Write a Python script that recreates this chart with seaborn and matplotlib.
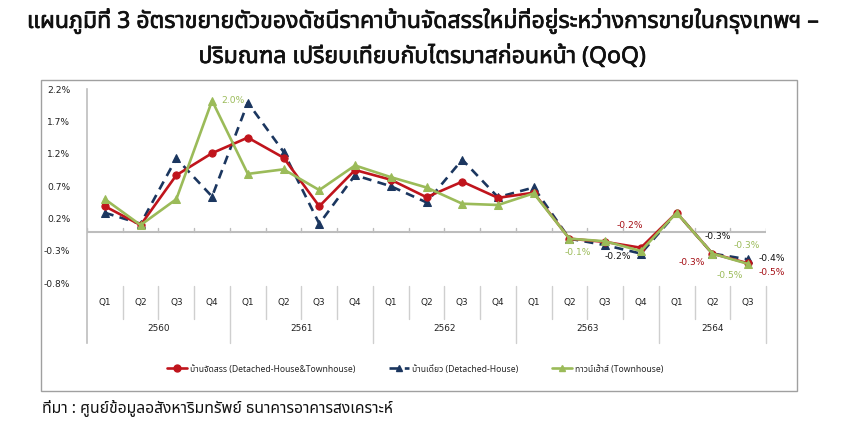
import matplotlib
matplotlib.use("Agg")
import matplotlib.pyplot as plt
import matplotlib.patheffects as pe
import seaborn as sns
import pandas as pd
import numpy as np
from matplotlib import font_manager as fm
from matplotlib.ft2font import FT2Font
from matplotlib.patches import Rectangle
from matplotlib.lines import Line2D

# ---------------- data ----------------
years = ["2560", "2561", "2562", "2563", "2564"]
quarters = ["Q1", "Q2", "Q3", "Q4", "Q1", "Q2", "Q3", "Q4", "Q1", "Q2", "Q3", "Q4",
            "Q1", "Q2", "Q3", "Q4", "Q1", "Q2", "Q3"]
quarters_per_year = [4, 4, 4, 4, 3]

series_names = ["บ้านจัดสรร (Detached-House&Townhouse)",
                "บ้านเดี่ยว (Detached-House)",
                "ทาวน์เฮ้าส์ (Townhouse)"]
combined = [0.39, 0.10, 0.87, 1.21, 1.45, 1.14, 0.39, 0.95, 0.80, 0.53, 0.77, 0.52,
            0.60, -0.11, -0.16, -0.25, 0.29, -0.34, -0.49]
detached = [0.29, 0.12, 1.13, 0.54, 1.99, 1.23, 0.12, 0.87, 0.70, 0.45, 1.11, 0.53,
            0.68, -0.11, -0.21, -0.34, 0.29, -0.34, -0.43]
townhouse = [0.50, 0.10, 0.50, 2.02, 0.89, 0.96, 0.64, 1.02, 0.84, 0.68, 0.43, 0.41,
             0.59, -0.11, -0.15, -0.30, 0.29, -0.34, -0.50]

y_ticks = [-0.8, -0.3, 0.2, 0.7, 1.2, 1.7, 2.2]

# data labels: (series index, point index, text)
labels = [(2, 3, "2.0%"), (0, 15, "-0.2%"), (2, 13, "-0.1%"), (1, 14, "-0.2%"),
          (1, 17, "-0.3%"), (0, 17, "-0.3%"), (2, 17, "-0.3%"), (2, 18, "-0.5%"),
          (1, 18, "-0.4%"), (0, 18, "-0.5%")]
# pixel offsets for those labels (styling)
label_offsets = [(21, 0), (-11, 22), (8, -14), (13, -11), (5, 17), (-21, -9),
                 (34, 8), (-18, -12), (24, 1), (24, -9)]

title_lines = ["แผนภูมิที่ 3 อัตราขยายตัวของดัชนีราคาบ้านจัดสรรใหม่ที่อยู่ระหว่างการขายในกรุงเทพฯ –",
               "ปริมณฑล เปรียบเทียบกับไตรมาสก่อนหน้า (QoQ)"]
source_text = "ที่มา : ศูนย์ข้อมูลอสังหาริมทรัพย์ ธนาคารอาคารสงเคราะห์"

# ---------------- fonts ----------------
sns.set_theme(style="white")


def thai_fonts():
    found = []
    for f in fm.fontManager.ttflist:
        if f.name in found:
            continue
        try:
            cm = FT2Font(f.fname).get_charmap()
        except Exception:
            continue
        if 0x0E01 in cm:
            found.append(f.name)
    pref = ["Tahoma", "Noto Sans Thai", "Noto Sans Thai UI", "Loma", "Garuda", "Sarabun",
            "Waree", "Kinnari", "Norasi"]
    found.sort(key=lambda n: pref.index(n) if n in pref else 99)
    return found


THAI = thai_fonts()
FAM = ["DejaVu Sans"] + THAI
TFAM = THAI + ["DejaVu Sans"]
plt.rcParams["font.family"] = FAM

# ---------------- figure ----------------
W, H = 843, 436
fig = plt.figure(figsize=(W / 100, H / 100), dpi=100)
fig.patch.set_facecolor("white")


def fx(px):
    return px / W


def fy(py):
    return 1 - py / H


ax = fig.add_axes([fx(87), fy(343), fx(766) - fx(87), fy(89) - fy(343)])
ax.set_facecolor("white")

n = len(quarters)
idx = list(range(n))
df = pd.DataFrame({"i": idx * 3,
                   "v": combined + detached + townhouse,
                   "s": [series_names[0]] * n + [series_names[1]] * n + [series_names[2]] * n})

colors = ["#C0141C", "#1B365F", "#9BBB59"]
styles = [dict(marker="o", markersize=5.2, linestyle="-"),
          dict(marker="^", markersize=5.2, linestyle=(0, (3.4, 2.4))),
          dict(marker="^", markersize=5.2, linestyle="-")]
zorders = [4, 3, 5]
for k in [1, 0, 2]:
    sub = df[df["s"] == series_names[k]]
    sns.lineplot(data=sub, x="i", y="v", ax=ax, color=colors[k], linewidth=1.9,
                 marker=styles[k]["marker"], markersize=styles[k]["markersize"],
                 markeredgecolor=colors[k], markerfacecolor=colors[k],
                 legend=False, estimator=None)
    ax.lines[-1].set_linestyle(styles[k]["linestyle"])
    ax.lines[-1].set_zorder(zorders[k])

ax.set_xlim(-0.5, n - 0.5)
ax.set_ylim(-1.72, 2.2)
ax.set_yticks(y_ticks)
ax.set_yticklabels([f"{t:.1f}%" for t in y_ticks], fontsize=6.6, color="#222222")
ax.tick_params(axis="y", length=0, pad=12)
ax.set_xticks([])
ax.set_xlabel("")
ax.set_ylabel("")
for sp in ["top", "right", "bottom"]:
    ax.spines[sp].set_visible(False)
ax.spines["left"].set_color("#BDBDBD")
ax.spines["left"].set_linewidth(1.2)
ax.grid(False)

# zero category axis
ax.axhline(0, color="#BDBDBD", linewidth=1.5, zorder=1)
for b in np.arange(-0.5, n, 1.0):
    ax.plot([b, b], [0, 0.06], color="#BDBDBD", linewidth=1.0, zorder=1)

# category labels
year_bounds = np.cumsum([0] + quarters_per_year) - 0.5
for i, q in enumerate(quarters):
    ax.text(i, -1.09, q, ha="center", va="center", fontsize=6.4, color="#222222")
for b in np.arange(0.5, n - 0.5, 1.0):
    if b in year_bounds:
        continue
    ax.plot([b, b], [-0.84, -1.35], color="#CFCFCF", linewidth=1.0, clip_on=False)
for b in year_bounds[1:]:
    ax.plot([b, b], [-0.84, -1.72], color="#CFCFCF", linewidth=1.0, clip_on=False)
for j, yname in enumerate(years):
    c = (year_bounds[j] + year_bounds[j + 1]) / 2
    ax.text(c, -1.50, yname, ha="center", va="center", fontsize=6.4, color="#222222")

# data labels
series_vals = [combined, detached, townhouse]
label_colors = ["#A50F15", "#111111", "#9BBB59"]
for (s, i, t), (dx, dy) in zip(labels, label_offsets):
    ax.annotate(t, (i, series_vals[s][i]), xytext=(dx, dy), textcoords="offset pixels",
                ha="center", va="center", fontsize=6.6, color=label_colors[s])

# legend
handles = []
for k in range(3):
    handles.append(Line2D([0], [0], color=colors[k], linewidth=1.9,
                          linestyle=styles[k]["linestyle"], marker=styles[k]["marker"],
                          markersize=5))
leg = fig.legend(handles, series_names, loc="center", bbox_to_anchor=(fx(415), fy(369)),
                 ncol=3, frameon=False, handlelength=2.4, handletextpad=0.3,
                 columnspacing=3.9, prop={"family": TFAM, "size": 6.2})

# outer frame
fig.patches.append(Rectangle((fx(41), fy(391)), fx(797) - fx(41), fy(80) - fy(391),
                             transform=fig.transFigure, fill=False, edgecolor="#A0A0A0",
                             linewidth=1.0))

# title
bold = [pe.withStroke(linewidth=0.5, foreground="#111111")]
fig.text(fx(422), fy(21), title_lines[0], ha="center", va="center", fontsize=16.6,
         fontweight="bold", family=TFAM, color="#111111", path_effects=bold)
fig.text(fx(422), fy(57), title_lines[1], ha="center", va="center", fontsize=16.6,
         fontweight="bold", family=TFAM, color="#111111", path_effects=bold)
# source
fig.text(fx(42), fy(408), source_text, ha="left", va="center", fontsize=11.3,
         family=TFAM, color="#111111")

fig.savefig("out.png", dpi=100, facecolor="white")
